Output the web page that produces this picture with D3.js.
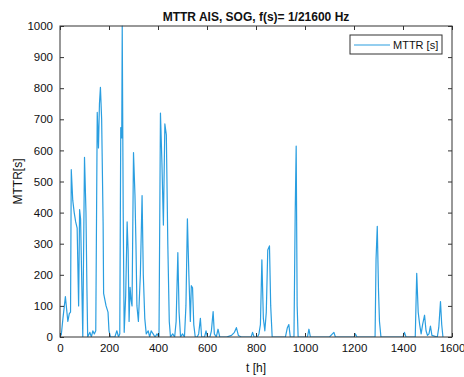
<!DOCTYPE html>
<html>
<head>
<meta charset="utf-8">
<script src="https://cdn.jsdelivr.net/npm/d3@7"></script>
<style>
  body { margin: 0; background: #fff; }
  svg { display: block; font-family: "Liberation Sans", Arial, sans-serif; }
</style>
</head>
<body>
<div id="chart"></div>
<script>
// time stamps [h] and MTTR [s]
var hours = [5, 12, 22, 32, 38, 43, 46, 52, 58, 64, 70, 76, 80, 84, 93, 100, 106, 110, 113,
    122, 128, 134, 140, 146, 152, 157, 161, 165, 170, 176, 178, 188, 196, 200, 206,
    224, 232, 239, 244, 248, 252, 254, 258, 262, 268, 274, 278, 282, 286, 290, 294,
    300, 306, 310, 314, 320, 328, 335, 340, 346, 352, 360, 366, 372, 380, 388, 396, 404,
    410, 416, 422, 428, 434, 440, 446, 451, 460, 468, 474, 481, 486, 492, 500, 508,
    514, 520, 526, 532, 536, 541, 546, 552, 560, 566, 573, 578, 590, 596, 602, 612,
    618, 625, 630, 638, 645, 652, 680, 700, 712, 720, 728, 740, 780, 786, 792, 806,
    812, 818, 824, 830, 836, 842, 848, 855, 860, 866, 920, 928, 934, 940, 955, 960,
    964, 968, 972, 1010, 1016, 1022, 1100, 1112, 1118, 1124, 1200, 1206, 1212, 1286,
    1290, 1295, 1300, 1304, 1310, 1400, 1406, 1412, 1450, 1456, 1462, 1468, 1474, 1480,
    1488, 1494, 1500, 1506, 1512, 1518, 1540, 1546, 1553, 1558, 1563];
var mttr = [5, 60, 130, 50, 75, 80, 538, 440, 400, 370, 350, 100, 410, 380, 0, 578, 400, 150, 0,
    15, 0, 20, 10, 20, 722, 608, 750, 803, 700, 365, 140, 100, 80, 20, 0,
    0, 20, 0, 10, 673, 640, 1000, 400, 15, 130, 370, 280, 50, 160, 120, 100,
    593, 455, 300, 100, 50, 200, 455, 200, 60, 10, 20, 0, 20, 10, 0, 10, 0,
    720, 560, 360, 685, 650, 300, 50, 0, 10, 0, 50, 271, 80, 0, 10, 0,
    100, 380, 200, 50, 165, 158, 40, 0, 0, 10, 60, 0, 0, 20, 0, 0,
    20, 82, 10, 0, 25, 0, 0, 5, 15, 30, 5, 0, 0, 15, 0, 0,
    10, 40, 248, 60, 20, 80, 280, 293, 100, 0, 0, 30, 40, 0, 0, 400,
    614, 100, 0, 0, 25, 0, 0, 10, 15, 0, 0, 10, 0, 0,
    250, 356, 150, 50, 0, 0, 15, 0, 0, 205, 80, 40, 10, 40,
    70, 20, 5, 10, 35, 5, 0, 30, 114, 40, 0];

var xTicks = [0, 200, 400, 600, 800, 1000, 1200, 1400, 1600];
var yTicks = [0, 100, 200, 300, 400, 500, 600, 700, 800, 900, 1000];

function init() {
    var w = 464, h = 377;
    var left = 60, right = 452, top = 26, bottom = 337;

    var svg = d3.select("#chart")
        .append("svg")
        .attr("width", w)
        .attr("height", h);

    var xScale = d3.scaleLinear().domain([0, 1600]).range([left, right]);
    var yScale = d3.scaleLinear().domain([0, 1000]).range([bottom, top]);

    var data = hours.map((t, i) => ({ t: t, v: mttr[i] }));

    svg.append("clipPath").attr("id", "clip")
        .append("rect")
        .attr("x", left).attr("y", top - 1)
        .attr("width", right - left).attr("height", bottom - top + 1);

    var line = d3.line()
        .x(d => xScale(d.t))
        .y(d => yScale(d.v));

    svg.append("path")
        .datum(data)
        .attr("clip-path", "url(#clip)")
        .attr("fill", "none")
        .attr("stroke", "#2a9ee0")
        .attr("stroke-width", 1.2)
        .attr("stroke-linejoin", "round")
        .attr("d", line);

    // axes, MATLAB style: ticks inside on all four sides
    var tickLen = 4;
    var axisFont = "11.5px";
    var fmt = d3.format("d");

    var xAxis = svg.append("g")
        .attr("transform", "translate(0," + bottom + ")")
        .call(d3.axisBottom(xScale).tickValues(xTicks).tickFormat(fmt)
            .tickSizeInner(-tickLen).tickSizeOuter(0).tickPadding(7));
    xAxis.selectAll("text").attr("font-size", axisFont).attr("fill", "#111");

    var yAxis = svg.append("g")
        .attr("transform", "translate(" + left + ",0)")
        .call(d3.axisLeft(yScale).tickValues(yTicks).tickFormat(fmt)
            .tickSizeInner(-tickLen).tickSizeOuter(0).tickPadding(7));
    yAxis.selectAll("text").attr("font-size", axisFont).attr("fill", "#111");

    svg.append("g")
        .attr("transform", "translate(0," + top + ")")
        .call(d3.axisTop(xScale).tickValues(xTicks).tickSizeInner(-tickLen).tickSizeOuter(0).tickFormat(""));

    svg.append("g")
        .attr("transform", "translate(" + right + ",0)")
        .call(d3.axisRight(yScale).tickValues(yTicks).tickSizeInner(-tickLen).tickSizeOuter(0).tickFormat(""));

    svg.selectAll(".domain").remove();
    svg.selectAll(".tick line").attr("stroke", "#333");

    // box
    svg.append("rect")
        .attr("x", left).attr("y", top)
        .attr("width", right - left).attr("height", bottom - top)
        .attr("fill", "none")
        .attr("stroke", "#333")
        .attr("stroke-width", 1);

    // title and labels
    svg.append("text")
        .attr("x", (left + right) / 2).attr("y", 21)
        .attr("text-anchor", "middle")
        .attr("font-size", "12px").attr("font-weight", "bold")
        .attr("fill", "#111")
        .text("MTTR AIS, SOG, f(s)= 1/21600 Hz");

    svg.append("text")
        .attr("x", (left + right) / 2).attr("y", 372)
        .attr("text-anchor", "middle")
        .attr("font-size", "12px")
        .attr("fill", "#111")
        .text("t [h]");

    svg.append("text")
        .attr("transform", "translate(22," + (top + bottom) / 2 + ") rotate(-90)")
        .attr("text-anchor", "middle")
        .attr("font-size", "12px")
        .attr("fill", "#111")
        .text("MTTR[s]");

    // legend
    var legend = svg.append("g").attr("transform", "translate(350,35)");
    legend.append("rect")
        .attr("width", 92).attr("height", 19)
        .attr("fill", "#fff")
        .attr("stroke", "#333");
    legend.append("line")
        .attr("x1", 4).attr("x2", 40)
        .attr("y1", 10).attr("y2", 10)
        .attr("stroke", "#2a9ee0")
        .attr("stroke-width", 1.2);
    legend.append("text")
        .attr("x", 43).attr("y", 14)
        .attr("font-size", "11px")
        .attr("fill", "#111")
        .text("MTTR [s]");
}

window.onload = init;
</script>
</body>
</html>
